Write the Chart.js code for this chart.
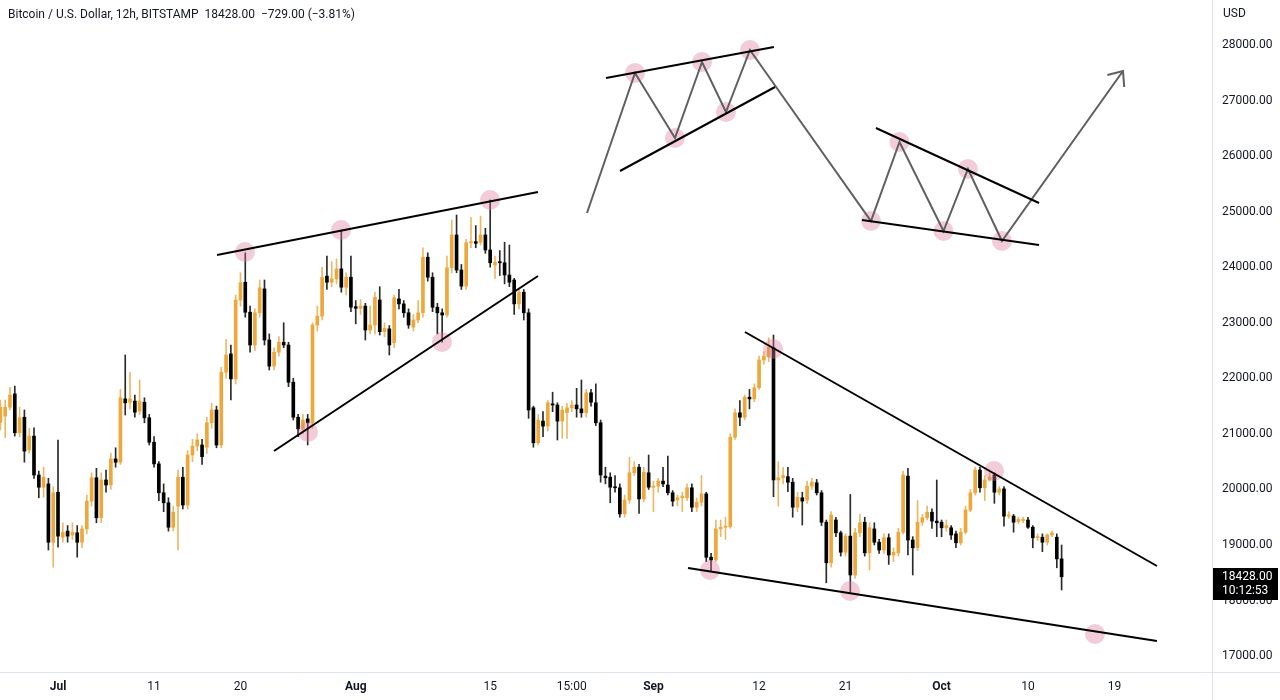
<!DOCTYPE html>
<html>
<head>
<meta charset="utf-8">
<script src="https://cdn.jsdelivr.net/npm/chart.js@4.4.1/dist/chart.umd.min.js"></script>
<style>
html,body{margin:0;padding:0;background:#fff;}
#wrap{position:relative;width:1280px;height:700px;overflow:hidden;}
#title{position:absolute;left:8px;top:7px;font:12px Roboto,sans-serif;color:#131722;white-space:pre;}
#usd{position:absolute;left:1223px;top:6px;font:12px Roboto,sans-serif;color:#131722;}
</style>
</head>
<body>
<div id="wrap">
<canvas id="c"></canvas>
<div id="title">Bitcoin / U.S. Dollar, 12h, BITSTAMP  18428.00  −729.00 (−3.81%)</div>
<div id="usd">USD</div>
</div>
<script>
// ---- time axis: 12h candles, x in days from Jul 1 2022 00:00 ----
const START_DAY = -6;      // Jun 25 2022 00:00
const STEP_DAYS = 0.5;     // 12h

// ---- OHLC series (USD) ----
const open = [21210,21320,21480,21720,21020,21300,20710,20960,20260,20040,20100,19050,19950,19140,19250,19180,19220,19050,19290,19790,
20210,19490,20170,20080,20550,20490,21630,21570,21590,21410,21570,21290,20850,20460,19940,19760,19320,19700,20220,19720,
20620,20780,20800,20760,21200,21430,20800,22110,22440,21990,23410,23730,23190,22600,23180,23610,22690,22220,22470,22650,
22600,21930,21300,21090,21270,21200,22960,23120,23840,23730,23790,23970,23640,23820,23290,23260,23300,22870,22960,23410,
22840,22890,22640,23430,23340,23180,22920,23050,23180,24180,23820,23280,23180,23140,23990,24580,23950,23660,24440,24460,
24450,24580,24310,24040,24100,24080,23860,23770,23340,23550,23180,21470,20840,21230,21140,21540,21520,21230,21380,21470,
21520,21450,21380,21740,21560,21200,20240,20220,20040,20030,19560,19810,20300,20400,19830,20300,20040,20060,20150,20080,
19940,19810,19850,19850,20030,19680,19770,19920,18780,18730,19290,19320,19330,20940,21380,21300,21660,21630,21830,22330,
22390,22550,20170,20210,20230,20130,19680,19850,19810,20060,20120,19940,19410,18680,19450,19220,18870,19160,18460,19220,
19410,18860,19290,19050,18910,19130,18820,18860,19230,20240,19090,18950,19410,19490,19590,19430,19410,19310,19310,19200,
19040,19230,19630,19940,20350,20030,20170,20260,19950,20010,19520,19520,19420,19440,19450,19320,19130,19140,19050,19180,
19140,18750];
const high = [21610,21610,21840,21860,21480,21430,21100,21110,20330,20400,20200,20050,20890,19400,19350,19400,19350,19350,19900,20300,
20380,20300,20350,20650,20750,21800,22420,22110,21700,21970,21650,21350,20950,20500,20100,19850,19700,20350,20400,20700,
20900,21000,20900,21300,21550,21500,22200,22700,22600,23500,23900,24260,23300,23250,23770,23770,22800,22550,22750,23000,
22650,22000,21350,21350,21350,23000,23300,24000,24200,24100,24150,24670,23900,24200,23400,23420,23350,23300,23550,23650,
23000,22950,23500,23600,23400,23250,23150,23400,24350,24260,23900,23350,23250,24200,24850,24940,24050,24500,24900,24750,
24920,24700,25210,24200,24300,24450,24400,23800,23600,23600,23250,21500,21350,21400,21600,21750,21560,21500,21550,21600,
21820,21970,21800,21800,21900,21250,20400,20300,20250,20100,19900,20580,20500,20450,20400,20620,20150,20200,20400,20600,
19980,19900,19950,20100,20100,19850,20250,19950,18850,19450,19450,19500,21000,21450,21600,21700,21800,21900,22400,22480,
22730,22780,20500,20400,20400,20200,19950,19950,20150,20200,20180,19980,19450,19600,19500,19250,19200,19910,19300,19550,
19500,19400,19400,19100,19200,19200,18950,19300,20330,20380,19150,19800,19550,19700,19650,20170,19450,19450,19350,19250,
19300,19700,20000,20400,20400,20250,20300,20300,20050,20050,19600,19550,19500,19500,19500,19350,19200,19200,19200,19250,
19200,19000];
const low = [21070,20930,21430,20960,20950,20490,20650,20200,19850,19860,18910,18600,18960,19050,19050,19100,18780,18950,19200,19700,
19400,19400,19950,20000,20400,20450,21340,21450,21300,21350,21200,20800,20400,19800,19600,19250,19250,18910,19650,19650,
20500,20700,20450,20650,21100,20750,20750,22000,21610,21900,23300,23100,22470,22500,23100,22600,22150,22150,22400,22550,
21850,21250,20950,21000,20800,21100,22850,23050,23600,23650,23700,23550,23500,23200,22980,23150,22690,22800,22800,22780,
22750,22420,22550,23250,23100,22900,22850,23000,23100,23750,23200,22800,22650,23100,23900,23900,23600,23600,24350,24350,
24400,24250,24000,23800,23850,23700,23650,23150,23250,23050,21280,20760,20800,20950,21050,21400,20890,20920,20920,21400,
21300,21300,21300,21500,21150,20130,20100,19760,19950,19500,19500,19750,20250,19570,19780,20000,19600,19950,20050,19900,
19700,19700,19600,19800,19600,19600,19700,18700,18530,18700,19150,19100,19300,20900,21150,21250,21450,21580,21800,22250,
22300,19870,19700,20100,19960,19500,19600,19360,19750,20000,19900,19350,18320,18600,19150,18800,18800,18150,18400,19150,
18800,18550,19000,18850,18850,18650,18700,18800,19200,18820,18460,18900,19350,19450,19300,19150,19150,19250,19100,18950,
19000,19200,19600,19900,19950,19800,20150,19750,19900,19340,19480,19230,19380,19400,19300,18950,19080,18880,19000,19150,
18590,18190];
const close = [21480,21480,21700,21020,21290,20690,20960,20260,20040,20220,19050,19940,19160,19230,19160,19230,19050,19290,19790,20210,
19490,20170,20080,20550,20490,21650,21560,21630,21390,21590,21290,20850,20460,19940,19760,19320,19590,20220,19720,20620,
20780,20890,20590,21200,21430,20800,22110,22420,21990,23410,23720,23190,22600,23180,23630,22690,22220,22470,22650,22600,
21930,21300,21090,21250,21200,22960,23120,23820,23730,23790,23970,23640,23820,23280,23260,23300,22870,22960,23460,22840,
22900,22600,23450,23340,23180,22960,23050,23180,24180,23820,23280,23180,23140,23990,24580,23950,23660,24440,24460,24430,
24580,24310,24080,24090,24080,23860,23730,23340,23550,23180,21430,20840,21250,21140,21560,21520,21230,21430,21470,21520,
21450,21380,21740,21570,21200,20260,20210,20040,20030,19560,19810,20300,20400,19830,20310,20040,20060,20150,20100,19940,
19790,19850,19880,20030,19680,19770,19920,18780,18730,19290,19320,19340,20940,21380,21300,21660,21630,21830,22330,22400,
22560,20170,20210,20250,20130,19680,19860,19790,20060,20130,19940,19410,18680,19540,19220,18870,19160,18460,19220,19400,
18860,19310,19050,18910,19130,18820,18870,19230,20260,19090,18950,19410,19490,19590,19430,19400,19310,19350,19180,19040,
19230,19630,19940,20350,20030,20170,20220,19950,20010,19520,19540,19410,19460,19460,19320,19130,19150,19050,19180,19220,
18750,18428];

const LAST_PRICE = 18428;
const COUNTDOWN = '10:12:53';

// ---- axis ticks ----
const tickDays   = [0, 10, 19, 31, 45, 53.5, 62, 73, 82, 92, 101, 110];
const tickLabels = ['Jul','11','20','Aug','15','15:00','Sep','12','21','Oct','10','19'];
const monthLabels = ['Jul','Aug','Sep','Oct'];
const priceTicks = [17000,18000,19000,20000,21000,22000,23000,24000,25000,26000,27000,28000];

// ---- drawn annotations, in (day, price) ----
const wedgeUpper = [{x:16.56,y:24220},{x:49.98,y:25354}];
const wedgeLower = [{x:22.49,y:20692},{x:49.98,y:23842}];
const fallUpper  = [{x:71.53,y:22834},{x:114.43,y:18622}];
const fallLower  = [{x:65.60,y:18586},{x:114.43,y:17272}];
const touchPoints = [
  {x:19.47,y:24274},{x:29.47,y:24670},{x:44.98,y:25210},
  {x:26.03,y:21034},{x:39.98,y:22654},
  {x:74.45,y:22528},{x:97.46,y:20332},
  {x:67.89,y:18550},{x:82.47,y:18172},{x:107.98,y:17398}
];
const schemePath = [
  {x:55.08,y:24976},{x:60.08,y:27496},{x:64.24,y:26326},{x:67.06,y:27694},{x:69.55,y:26794},
  {x:72.05,y:27910},{x:84.65,y:24832},{x:87.62,y:26254},{x:92.20,y:24652},{x:94.75,y:25768},
  {x:98.29,y:24472},{x:110.89,y:27532}
];
const schemeArrow = [{x:109.27,y:27460},{x:110.89,y:27532},{x:111.02,y:27244}];
const schemeUpper1 = [{x:57.06,y:27406},{x:74.55,y:27964}];
const schemeLower1 = [{x:58.52,y:25732},{x:74.66,y:27244}];
const schemeUpper2 = [{x:85.17,y:26506},{x:102.15,y:25156}];
const schemeLower2 = [{x:83.72,y:24850},{x:102.15,y:24400}];
const schemeTouches = schemePath.slice(1, 11);

// ---- build ----
const days = open.map((_, i) => START_DAY + STEP_DAYS * i);
const UP = '#EEA73A', DOWN = '#000000', UP_WICK = '#EDB866', DOWN_WICK = '#2a2a2a';
const isUp = i => close[i] >= open[i];

function lineDs(data, color, width, order) {
  return {type:'line', data, borderColor:color, borderWidth:width, pointRadius:0,
          pointHoverRadius:0, fill:false, tension:0, order};
}
function dotDs(data) {
  return {type:'line', data, showLine:false, pointRadius:10, pointHoverRadius:10,
          pointBackgroundColor:'rgba(222,122,152,0.38)', pointBorderWidth:0, order:1};
}

const extras = {
  id:'extras',
  afterDraw(chart) {
    const {ctx, chartArea:a} = chart;
    ctx.save();
    ctx.strokeStyle = '#E0E3EB'; ctx.lineWidth = 1;
    ctx.beginPath();
    ctx.moveTo(a.right, a.bottom + 0.5); ctx.lineTo(chart.width, a.bottom + 0.5);
    ctx.moveTo(a.right + 0.5, a.bottom); ctx.lineTo(a.right + 0.5, chart.height);
    ctx.stroke();
    const y = Math.round(chart.scales.y.getPixelForValue(LAST_PRICE));
    ctx.fillStyle = '#000';
    ctx.fillRect(a.right + 1, y - 9, chart.width - a.right - 3, 32);
    ctx.fillStyle = '#fff';
    ctx.font = '12px Roboto';
    ctx.textBaseline = 'middle';
    ctx.fillText(LAST_PRICE.toFixed(2), a.right + 10, y);
    ctx.fillText(COUNTDOWN, a.right + 10, y + 14);
    ctx.restore();
  }
};

new Chart(document.getElementById('c'), {
  data: {
    labels: days,
    datasets: [
      {type:'bar', data: low.map((l, i) => [l, high[i]]),
       backgroundColor: ctx => isUp(ctx.dataIndex) ? UP_WICK : DOWN_WICK,
       barThickness:1, grouped:false, borderWidth:0, order:4},
      {type:'bar', data: open.map((o, i) => [o, close[i]]),
       backgroundColor: ctx => isUp(ctx.dataIndex) ? UP : DOWN,
       barThickness:3, minBarLength:1, grouped:false, borderWidth:0, order:3},
      dotDs(touchPoints),
      dotDs(schemeTouches),
      lineDs(schemePath, '#5f5f5f', 2, 0),
      lineDs(schemeArrow, '#5f5f5f', 2, 0),
      lineDs(wedgeUpper, '#000', 2, -1),
      lineDs(wedgeLower, '#000', 2, -1),
      lineDs(fallUpper, '#000', 2, -1),
      lineDs(fallLower, '#000', 2, -1),
      lineDs(schemeUpper1, '#000', 2, -1),
      lineDs(schemeLower1, '#000', 2, -1),
      lineDs(schemeUpper2, '#000', 2, -1),
      lineDs(schemeLower2, '#000', 2, -1)
    ]
  },
  options: {
    responsive:true, maintainAspectRatio:false, devicePixelRatio:1, animation:false,
    layout:{padding:0, autoPadding:false},
    plugins:{legend:{display:false}, tooltip:{enabled:false}, title:{display:false}},
    events:[],
    scales:{
      x:{type:'linear', min:-6.04, max:120.16, offset:false,
         grid:{display:false, drawTicks:false},
         border:{display:true, color:'#E0E3EB'},
         afterBuildTicks: s => { s.ticks = tickDays.map(v => ({value:v})); },
         afterFit: s => { s.height = 28; },
         ticks:{autoSkip:false, maxRotation:0, minRotation:0, padding:8, color:'#131722',
                font: ctx => ({family:'Roboto', size:12,
                               weight: monthLabels.includes(tickLabels[ctx.index]) ? 'bold' : 'normal'}),
                callback: (v, i) => tickLabels[i]}},
      y:{type:'linear', position:'right', min:16714, max:28810, beginAtZero:false,
         grid:{display:false, drawTicks:false},
         border:{display:true, color:'#E0E3EB'},
         afterBuildTicks: s => { s.ticks = priceTicks.map(v => ({value:v})); },
         afterFit: s => { s.width = 68; s.paddingTop = 0; s.paddingBottom = 0; },
         ticks:{autoSkip:false, padding:10, color:'#131722',
                font:{family:'Roboto', size:12}, callback: v => v.toFixed(2)}}
    }
  },
  plugins:[extras]
});
</script>
</body>
</html>
